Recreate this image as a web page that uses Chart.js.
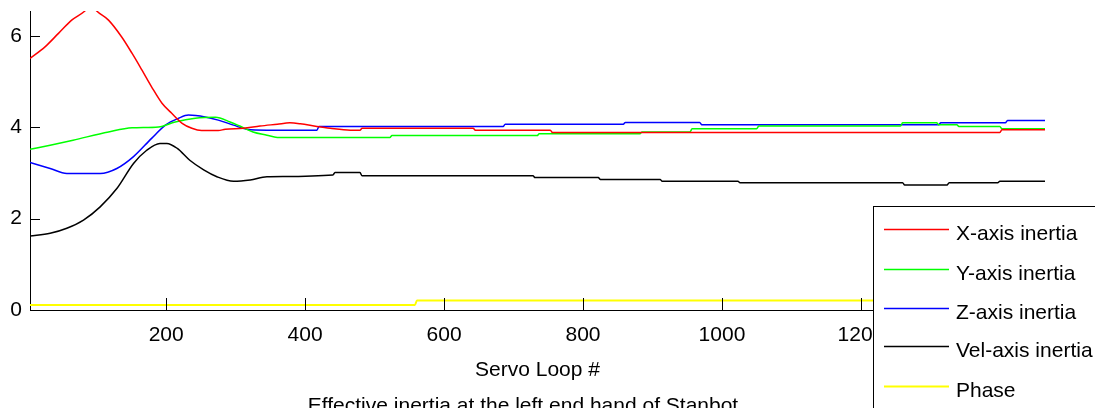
<!DOCTYPE html>
<html>
<head>
<meta charset="utf-8">
<script src="https://cdn.jsdelivr.net/npm/chart.js@4/dist/chart.umd.min.js"></script>
<style>
  html, body { margin: 0; padding: 0; background: #fff; overflow: hidden; }
  canvas { display: block; }
</style>
</head>
<body>
<canvas id="chart" width="1095" height="408"></canvas>
<script>
// Values (servo loop #, inertia)
const redX = [4, 26, 45, 64, 83, 92, 100, 117, 136, 151, 165, 179, 194, 208, 223, 237, 251, 275, 285, 311, 335, 360, 378, 393, 417, 436, 465, 479, 482, 642, 645, 753, 756, 1400, 1403, 1465];
const redY = [5.51, 5.77, 6.06, 6.35, 6.55, 6.7, 6.55, 6.35, 5.98, 5.62, 5.26, 4.89, 4.53, 4.31, 4.09, 3.98, 3.93, 3.93, 3.96, 3.98, 4.03, 4.07, 4.10, 4.08, 4.02, 3.98, 3.94, 3.94, 3.98, 3.98, 3.94, 3.94, 3.89, 3.89, 3.95, 3.95];

const greenX = [4, 33, 66, 117, 151, 189, 213, 242, 271, 292, 306, 325, 345, 360, 522, 525, 734, 737, 882, 885, 954, 957, 1050, 1053, 1257, 1260, 1309, 1312, 1338, 1341, 1400, 1403, 1465];
const greenY = [3.52, 3.61, 3.72, 3.90, 3.99, 4.01, 4.12, 4.20, 4.22, 4.12, 4.03, 3.90, 3.83, 3.78, 3.78, 3.82, 3.82, 3.86, 3.86, 3.90, 3.90, 3.97, 3.97, 4.03, 4.03, 4.10, 4.10, 4.06, 4.06, 4.02, 4.02, 3.97, 3.97];

const blueX = [4, 33, 57, 105, 129, 153, 179, 199, 218, 232, 256, 275, 297, 316, 345, 417, 420, 685, 688, 858, 861, 968, 971, 1312, 1315, 1408, 1411, 1465];
const blueY = [3.23, 3.10, 2.99, 2.99, 3.10, 3.36, 3.76, 4.05, 4.20, 4.27, 4.23, 4.16, 4.05, 3.96, 3.94, 3.94, 4.02, 4.02, 4.07, 4.07, 4.11, 4.11, 4.06, 4.06, 4.10, 4.10, 4.15, 4.15];

const velX = [4, 33, 57, 81, 105, 129, 153, 172, 191, 201, 216, 234, 254, 273, 297, 321, 345, 440, 443, 479, 482, 728, 731, 822, 825, 911, 914, 1023, 1026, 1260, 1263, 1324, 1327, 1397, 1400, 1465];
const velY = [1.62, 1.68, 1.79, 1.97, 2.26, 2.66, 3.21, 3.50, 3.65, 3.65, 3.54, 3.28, 3.07, 2.92, 2.82, 2.85, 2.92, 2.96, 3.01, 3.01, 2.94, 2.94, 2.90, 2.90, 2.86, 2.86, 2.82, 2.82, 2.79, 2.79, 2.74, 2.74, 2.79, 2.79, 2.82, 2.82];

const phaseX = [4, 558, 561, 1465];
const phaseY = [0.11, 0.11, 0.21, 0.21];

const seriesNames = ['X-axis inertia', 'Y-axis inertia', 'Z-axis inertia', 'Vel-axis inertia', 'Phase'];
const seriesColors = ['#ff0000', '#00ff00', '#0000ff', '#000000', '#ffff00'];

const xTicks = [200, 400, 600, 800, 1000, 1200, 1400];
const yTicks = [0, 2, 4, 6];

const xLabel = 'Servo Loop #';
const caption = 'Effective inertia at the left end hand of Stanbot';

const FONT = '"Liberation Sans", Arial, sans-serif';

const toPoints = (xs, ys) => xs.map((x, i) => ({ x: x, y: ys[i] }));
const allSeries = [
    toPoints(redX, redY),
    toPoints(greenX, greenY),
    toPoints(blueX, blueY),
    toPoints(velX, velY),
    toPoints(phaseX, phaseY)
];

// MATLAB-style inward tick marks
const inwardTicks = {
    id: 'inwardTicks',
    afterDatasetsDraw: (chart) => {
        const {ctx, chartArea, scales} = chart;
        ctx.save();
        ctx.strokeStyle = '#000';
        ctx.lineWidth = 1;
        ctx.beginPath();
        xTicks.forEach(v => {
            const px = Math.round(scales.x.getPixelForValue(v)) + 0.5;
            ctx.moveTo(px, chartArea.bottom);
            ctx.lineTo(px, chartArea.bottom - 12);
        });
        yTicks.forEach(v => {
            const py = Math.round(scales.y.getPixelForValue(v)) + 0.5;
            ctx.moveTo(chartArea.left, py);
            ctx.lineTo(chartArea.left + 10, py);
        });
        ctx.stroke();
        ctx.restore();
    }
};

// Axis label, caption and the boxed legend in the lower right
const textAndLegend = {
    id: 'textAndLegend',
    afterDraw: (chart) => {
        const {ctx, chartArea} = chart;
        ctx.save();
        ctx.fillStyle = '#000';
        ctx.font = '21px ' + FONT;
        ctx.textAlign = 'center';
        ctx.textBaseline = 'alphabetic';
        ctx.fillText(xLabel, (chartArea.left + chartArea.right) / 2, 376);
        ctx.fillText(caption, 523, 412);

        // legend box
        ctx.fillStyle = '#fff';
        ctx.fillRect(873.5, 206.5, 300, 300);
        ctx.strokeStyle = '#000';
        ctx.lineWidth = 1;
        ctx.strokeRect(873.5, 206.5, 300, 300);

        const rows = [229, 269, 308, 346, 386];
        ctx.textAlign = 'left';
        ctx.textBaseline = 'middle';
        seriesNames.forEach((name, i) => {
            ctx.strokeStyle = seriesColors[i];
            ctx.lineWidth = i === 4 ? 2 : 1.5;
            ctx.beginPath();
            ctx.moveTo(884, rows[i] + 0.5);
            ctx.lineTo(949, rows[i] + 0.5);
            ctx.stroke();
            ctx.fillStyle = '#000';
            ctx.fillText(name, 956, rows[i] + 5);
        });
        ctx.restore();
    }
};

new Chart(document.getElementById('chart'), {
    type: 'line',
    data: {
        datasets: allSeries.map((pts, i) => ({
            label: seriesNames[i],
            data: pts,
            borderColor: seriesColors[i],
            borderWidth: i === 4 ? 2 : 1.5,
            pointRadius: 0,
            fill: false,
            cubicInterpolationMode: 'monotone',
            clip: 0
        }))
    },
    options: {
        responsive: false,
        animation: false,
        layout: { padding: { top: 11, right: 50, left: 0, bottom: 0 } },
        scales: {
            x: {
                type: 'linear',
                min: 4,
                max: 1465,
                afterBuildTicks: (scale) => { scale.ticks = xTicks.map(v => ({ value: v })); },
                afterFit: (scale) => {
                    scale.height = 98;
                    scale.paddingLeft = 0;
                    scale.paddingRight = 0;
                },
                grid: { drawOnChartArea: false, drawTicks: false },
                border: { display: true, color: '#000', width: 1 },
                ticks: {
                    color: '#000',
                    font: { family: FONT, size: 21 },
                    padding: 13,
                    maxRotation: 0,
                    autoSkip: false,
                    callback: (v) => String(v)
                }
            },
            y: {
                min: 0,
                max: 6.55,
                afterBuildTicks: (scale) => { scale.ticks = yTicks.map(v => ({ value: v })); },
                afterFit: (scale) => {
                    scale.width = 30;
                    scale.paddingTop = 0;
                    scale.paddingBottom = 0;
                },
                grid: { drawOnChartArea: false, drawTicks: false },
                border: { display: true, color: '#000', width: 1 },
                ticks: {
                    color: '#000',
                    font: { family: FONT, size: 21 },
                    padding: 8,
                    callback: (v) => String(v)
                }
            }
        },
        plugins: {
            legend: { display: false },
            tooltip: { enabled: false }
        }
    },
    plugins: [inwardTicks, textAndLegend]
});
</script>
</body>
</html>
